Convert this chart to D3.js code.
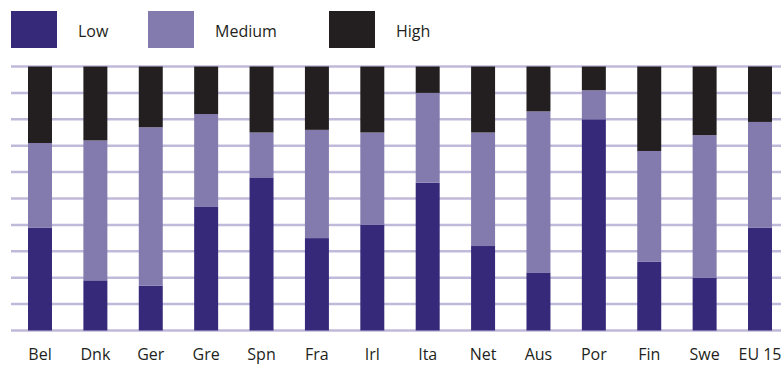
<!DOCTYPE html>
<html><head><meta charset="utf-8">
<script src="https://cdn.jsdelivr.net/npm/d3@7"></script>
<style>body{margin:0;background:#fff}svg{display:block}text{font-family:"Open Sans","DejaVu Sans",sans-serif;fill:#231f20}</style>
</head><body><svg id="c" width="781" height="365"></svg>
<script>
const categories = ["Bel","Dnk","Ger","Gre","Spn","Fra","Irl","Ita","Net","Aus","Por","Fin","Swe","EU 15"];
const low    = [39,19,17,47,58,35,40,56,32,22,80,26,20,39];
const medium = [32,53,60,35,17,41,35,34,43,61,11,42,54,40];
const high   = [29,28,23,18,25,24,25,10,25,17, 9,32,26,21];
const seriesNames = ["Low","Medium","High"];
const colors = ["#36297a","#837aae","#231f20"];
const yTicks = [0,10,20,30,40,50,60,70,80,90,100];

const svg = d3.select("#c");
const x = d3.scaleBand().domain(categories).range([12.3, 787.7]).paddingInner(0.567).paddingOuter(0.2835);
const y = d3.scaleLinear().domain([0,100]).range([330.5, 66.5]);

svg.append("g").selectAll("line").data(yTicks).join("line")
  .attr("x1", 11).attr("x2", 781)
  .attr("y1", d => y(d)).attr("y2", d => y(d))
  .attr("stroke", "#c0b9da").attr("stroke-width", 2.5);

const table = categories.map((c,i) => ({cat:c, Low:low[i], Medium:medium[i], High:high[i]}));
const stack = d3.stack().keys(seriesNames)(table);
svg.append("g").selectAll("g").data(stack).join("g")
  .attr("fill", (d,i) => colors[i])
  .selectAll("rect").data(d => d).join("rect")
  .attr("x", d => x(d.data.cat)).attr("width", x.bandwidth())
  .attr("y", d => y(d[1])).attr("height", d => y(d[0]) - y(d[1]));

svg.append("g").selectAll("text").data(categories).join("text")
  .attr("x", d => x(d) + x.bandwidth()/2).attr("y", 360)
  .attr("text-anchor","middle").attr("font-size", 16).text(d => d);

const legX = [11, 148, 329];
const leg = svg.append("g").selectAll("g").data(seriesNames).join("g");
leg.append("rect").attr("x",(d,i)=>legX[i]).attr("y",11).attr("width",46).attr("height",37).attr("fill",(d,i)=>colors[i]);
leg.append("text").attr("x",(d,i)=>legX[i]+67).attr("y",37).attr("font-size",16).text(d=>d);
</script></body></html>
